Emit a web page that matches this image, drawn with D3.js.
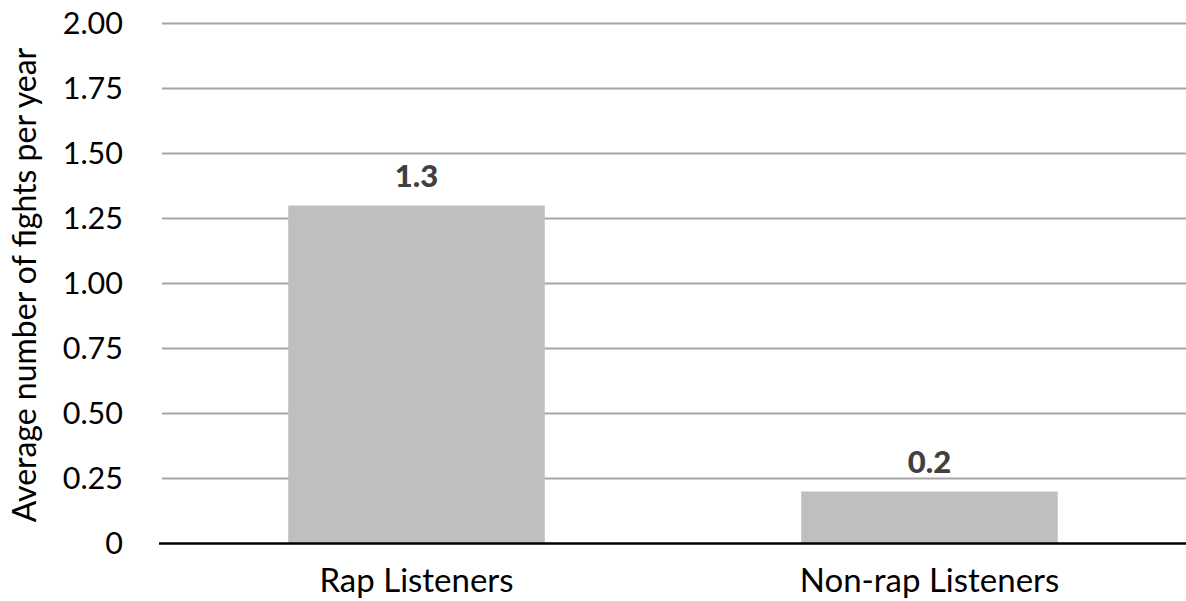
<!DOCTYPE html>
<html><head><meta charset="utf-8">
<script src="https://cdn.jsdelivr.net/npm/d3@7"></script>
<style>body{margin:0;background:#fff}svg{display:block}text{font-family:"Gill Sans","Gill Sans MT",Lato,sans-serif}</style>
</head><body>
<svg id="c" width="1186" height="601"></svg>
<script>
const categories = ["Rap Listeners", "Non-rap Listeners"];
const values = [1.3, 0.2];
const valueLabels = ["1.3", "0.2"];
const yTicks = [0, 0.25, 0.5, 0.75, 1, 1.25, 1.5, 1.75, 2];
const yTickLabels = ["0", "0.25", "0.50", "0.75", "1.00", "1.25", "1.50", "1.75", "2.00"];
const yTitle = "Average number of fights per year";

const svg = d3.select("#c");
const mLeft = 160, mRight = 1186, mTop = 23.5, mBottom = 543.5;
const x = d3.scaleBand().domain(categories).range([mLeft, mRight]).paddingInner(0.5).paddingOuter(0.25);
const y = d3.scaleLinear().domain([0, 2]).range([mBottom, mTop]);

// gridlines
svg.append("g").selectAll("line").data(yTicks.filter(d => d > 0)).join("line")
  .attr("x1", mLeft + 2).attr("x2", mRight).attr("y1", d => y(d)).attr("y2", d => y(d))
  .attr("stroke", "#a6a6a6").attr("stroke-width", 2);

// y tick labels
svg.append("g").selectAll("text").data(yTicks).join("text")
  .attr("x", 123).attr("y", d => y(d)).attr("dy", "0.36em")
  .attr("text-anchor", "end").attr("font-size", 30.5).attr("fill", "#000")
  .text((d, i) => yTickLabels[i]);

// bars
svg.append("g").selectAll("rect").data(values).join("rect")
  .attr("x", (d, i) => x(categories[i])).attr("width", x.bandwidth())
  .attr("y", d => y(d)).attr("height", d => y(0) - y(d))
  .attr("fill", "#bfbfbf");

// value labels
svg.append("g").selectAll("text").data(values).join("text")
  .attr("x", (d, i) => x(categories[i]) + x.bandwidth() / 2).attr("y", d => y(d) - 19)
  .attr("text-anchor", "middle").attr("font-size", 31).attr("font-weight", "900").attr("fill", "#404040")
  .text((d, i) => valueLabels[i]);

// x axis line
svg.append("line").attr("x1", mLeft - 1).attr("x2", mRight).attr("y1", y(0)).attr("y2", y(0))
  .attr("stroke", "#000").attr("stroke-width", 2.5);

// category labels
svg.append("g").selectAll("text").data(categories).join("text")
  .attr("x", d => x(d) + x.bandwidth() / 2).attr("y", 592)
  .attr("text-anchor", "middle").attr("font-size", 33).attr("fill", "#000")
  .text(d => d);

// y title
svg.append("text").attr("transform", "translate(36,285) rotate(-90)")
  .attr("text-anchor", "middle").attr("font-size", 32).attr("fill", "#000").text(yTitle);
</script>
</body></html>
